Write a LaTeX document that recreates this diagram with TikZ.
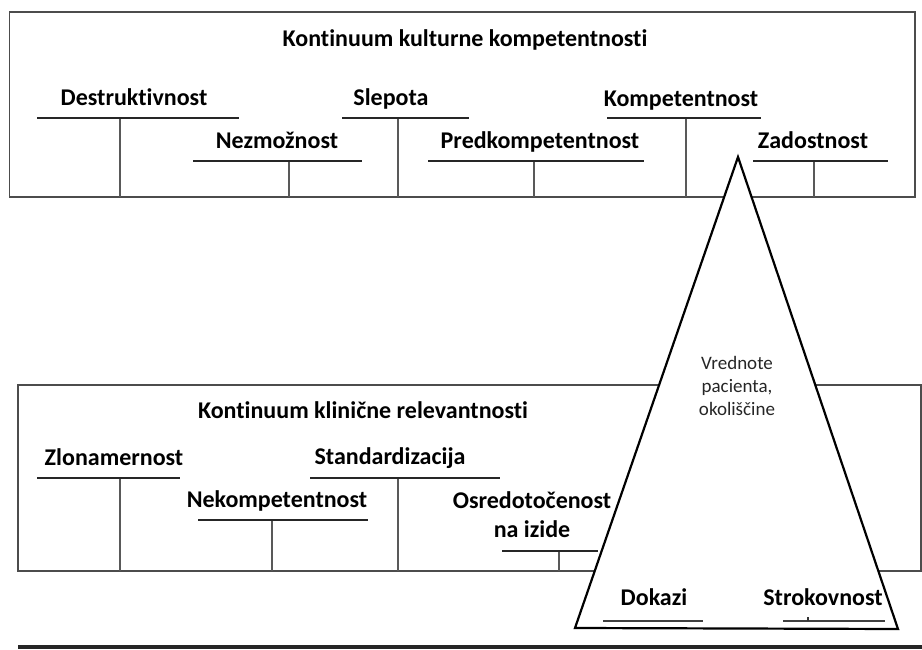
\documentclass[tikz,border=0pt]{standalone}
\usepackage{fontspec}
\setmainfont{Carlito}[Ligatures=NoCommon]
\begin{document}
\begin{tikzpicture}[x=1pt,y=1pt,
  frame/.style={draw=black!70, line width=1.3pt},
  lbl/.style={font=\bfseries\fontsize{24}{29}\selectfont, inner sep=0pt, anchor=base},
  bar/.style={draw=black!85, line width=2.4pt},
  thinbar/.style={draw=black!75, line width=1.8pt},
  stem/.style={draw=black!65, line width=1.3pt},
  pyramid/.style={draw=black, line width=2.2pt, fill=white, line join=miter},
  note/.style={font=\fontsize{19}{23}\selectfont, text=black!85, align=center, inner sep=0pt, anchor=base}]
\useasboundingbox (0,0) rectangle (922,-650);

% ---- upper box: cultural competence continuum ----
\coordinate (tbNW) at (9.5,-12);
\coordinate (tbSE) at (915,-197);
\draw[frame] (tbNW) rectangle (tbSE);
\node[lbl] (ttitle) at (465,-47) {Kontinuum kulturne kompetentnosti};

\node[lbl] (destr) at (134,-106) {Destruktivnost};
\node[lbl] (nezm)  at (277,-149) {Nezmožnost};
\node[lbl] (slep)  at (391,-106) {Slepota};
\node[lbl] (predk) at (540,-149) {Predkompetentnost};
\node[lbl] (komp)  at (681,-107) {Kompetentnost};
\node[lbl] (zad)   at (813,-149) {Zadostnost};

% underlines and their stems
\foreach \n/\l/\r/\y/\s in {destr/37/239/118/120, nezm/193/362/161/289,
  slep/342/469/118/398, predk/428/644/161/534, komp/607/761/118/686,
  zad/753/888/161/814}{
  \coordinate (\n-l) at (\l,-\y);
  \coordinate (\n-r) at (\r,-\y);
  \coordinate (\n-s) at (\s,-\y);
  \draw[stem] (\n-s) -- (\n-s |- tbSE);
  \draw[bar] (\n-l) -- (\n-r);
}

% ---- lower box: clinical relevance continuum ----
\coordinate (bbNW) at (18,-385);
\coordinate (bbSE) at (921,-571);
\draw[frame] (bbNW) rectangle (bbSE);
\node[lbl] (btitle) at (363,-418) {Kontinuum klinične relevantnosti};

\node[lbl] (zlon)  at (114,-465) {Zlonamernost};
\node[lbl] (nekom) at (277,-507) {Nekompetentnost};
\node[lbl] (stand) at (390,-464) {Standardizacija};
\node[lbl, align=center] (osred) at (532,-537) {Osredotočenost\\na izide};

\foreach \n/\l/\r/\y/\s in {zlon/37/180/478/120, nekom/198/368/520/272,
  stand/310/500/478/398, osred/502/598/551/559}{
  \coordinate (\n-l) at (\l,-\y);
  \coordinate (\n-r) at (\r,-\y);
  \coordinate (\n-s) at (\s,-\y);
  \draw[stem] (\n-s) -- (\n-s |- bbSE);
  \draw[bar] (\n-l) -- (\n-r);
}

% ---- baseline ----
\coordinate (axL) at (18,-647);
\coordinate (axR) at (922,-647);
\draw[draw=black!85, line width=3.6pt] (axL) -- (axR);

% ---- evidence-based practice triangle ----
\coordinate (apex) at (738,-157);
\coordinate (baseL) at (575,-628);
\coordinate (baseR) at (898,-629);
\draw[pyramid] (apex) -- (baseR) -- (baseL) -- cycle;

\node[note] (vals) at (737,-415) {Vrednote\\pacienta,\\okoliščine};

\node[lbl] (dok)  at (654,-605) {Dokazi};
\node[lbl] (strok) at (823,-605) {Strokovnost};
\coordinate (dok-l) at (603,-621);
\coordinate (dok-r) at (703,-621);
\coordinate (strok-l) at (783,-621);
\coordinate (strok-r) at (885,-621);
\coordinate (strok-t) at (808,-621);
\draw[thinbar] (dok-l) -- (dok-r);
\draw[thinbar] (strok-l) -- (strok-r);
\draw[draw=black!80, line width=1.5pt] (strok-t) -- ++(0,4);
\end{tikzpicture}
\end{document}
